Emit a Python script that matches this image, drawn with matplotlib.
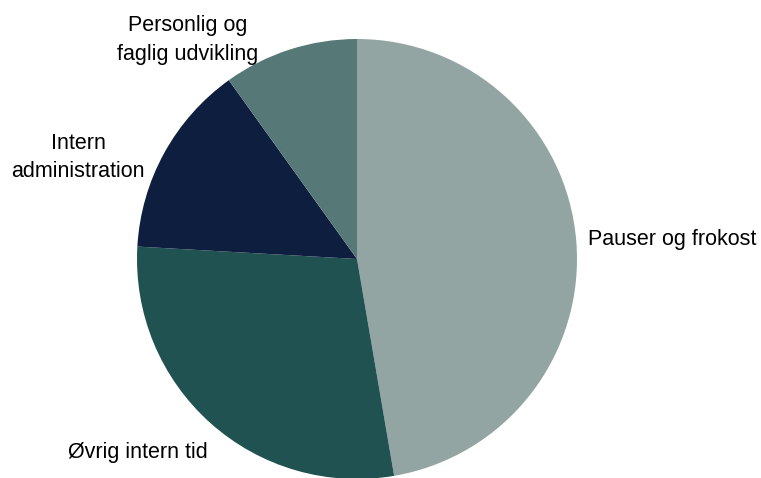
import matplotlib.pyplot as plt

plt.rcParams["font.family"] = ["Liberation Sans", "DejaVu Sans"]

labels = ["Pauser og frokost", "Øvrig intern tid", "Intern\nadministration",
          "Personlig og\nfaglig udvikling"]
values = [47.3, 28.6, 14.2, 9.9]
colors = ["#93a5a3", "#215252", "#0e1e3e", "#567978"]

fig = plt.figure(figsize=(7.61, 4.78), dpi=100)
ax = fig.add_axes([137 / 761, -1 / 478, 440 / 761, 440 / 478])

wedges, _ = ax.pie(values, colors=colors, startangle=90, counterclock=False,
                   radius=1.0, wedgeprops=dict(linewidth=0))
ax.set_xlim(-1, 1)
ax.set_ylim(-1, 1)
ax.set_aspect("equal")
ax.axis("off")

fs = 15.5
ls = 1.45
# label placement (data coords, radius = 1)
ax.text(1.05, 0.088, labels[0], ha="left", va="center", fontsize=fs, clip_on=False)
ax.text(-0.68, -0.88, labels[1], ha="right", va="center", fontsize=fs, clip_on=False)
ax.text(-0.964, 0.461, labels[2], ha="right", va="center", fontsize=fs,
        multialignment="center", linespacing=ls, clip_on=False)
ax.text(-0.77, 0.995, labels[3], ha="center", va="center", fontsize=fs,
        multialignment="center", linespacing=ls, clip_on=False)

fig.savefig("out.png", dpi=100)
